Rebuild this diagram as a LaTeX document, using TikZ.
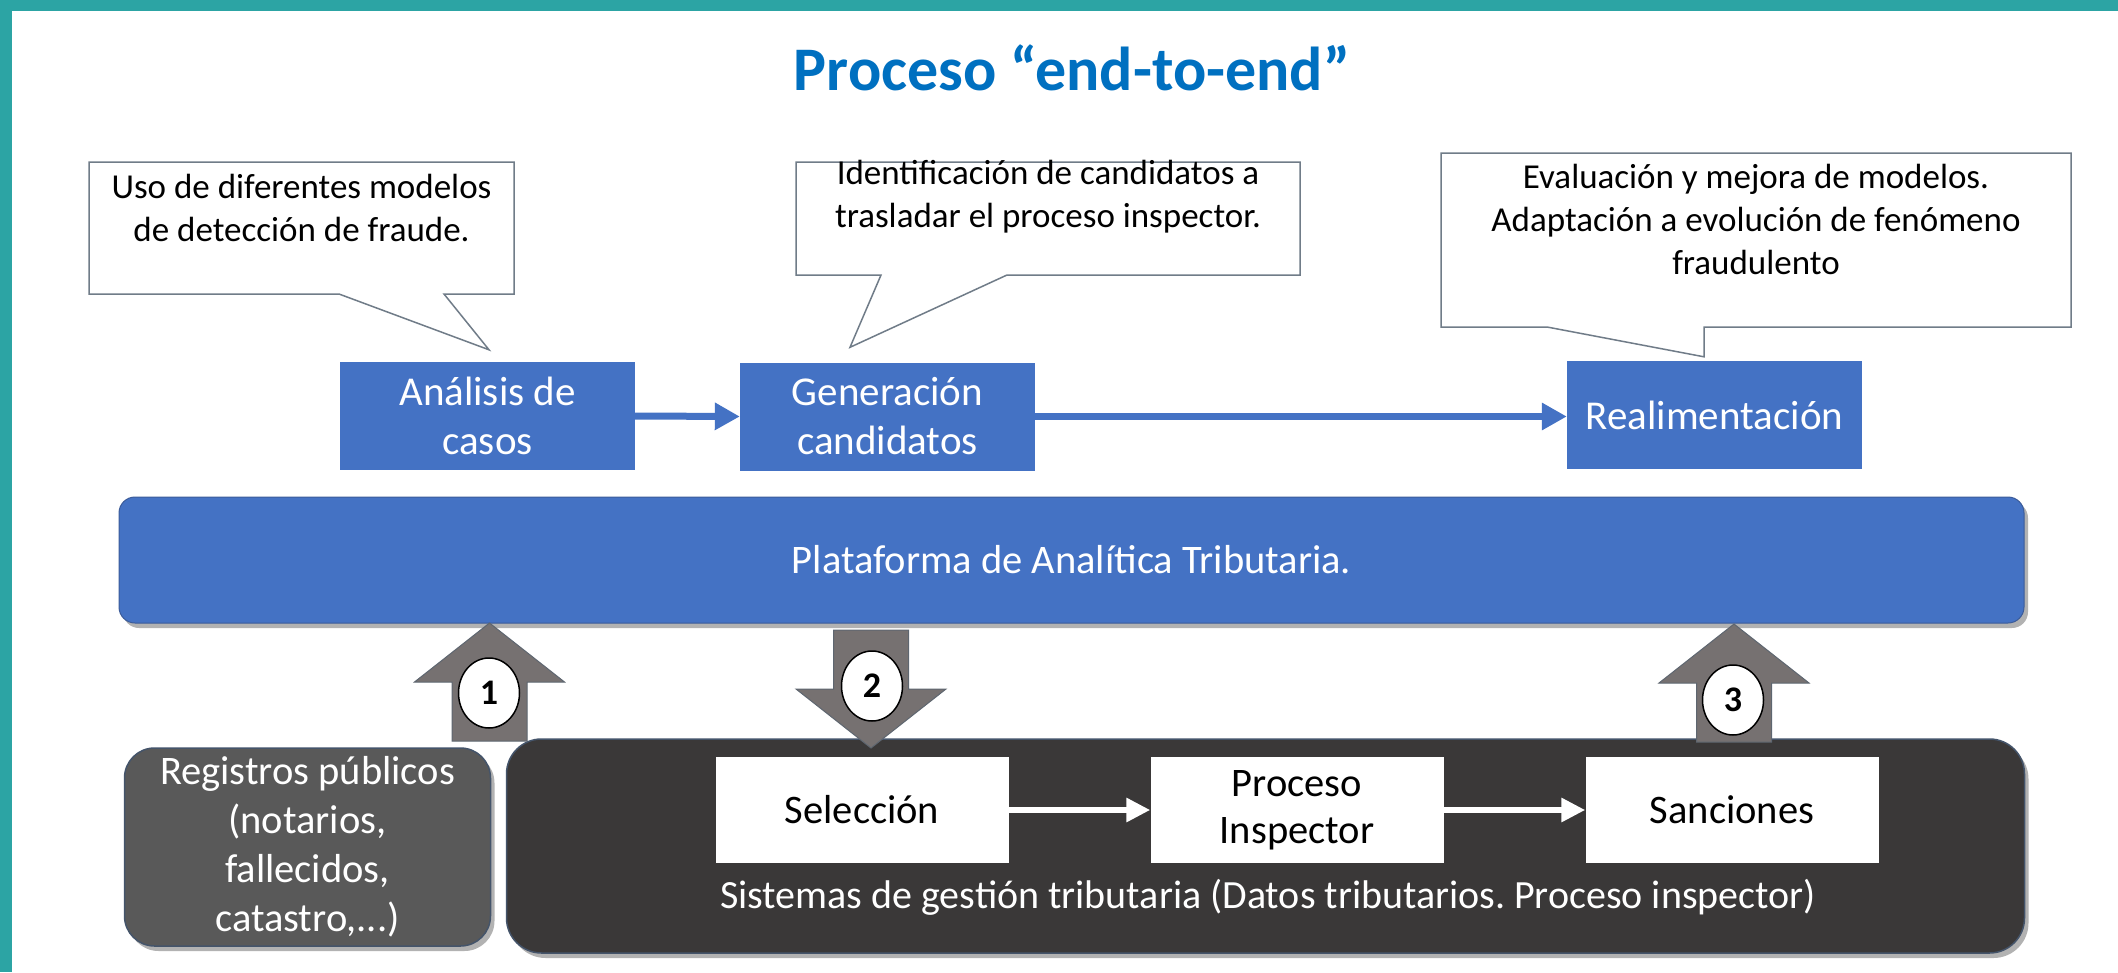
\documentclass[tikz,border=0pt]{standalone}
\usepackage{fontspec}
\setmainfont{Carlito}
\usetikzlibrary{arrows.meta, calc, positioning, shadows, shapes.geometric}
\frenchspacing

\definecolor{frameteal}{HTML}{2CA4A4}
\definecolor{titleblue}{HTML}{0070C0}
\definecolor{boxblue}{HTML}{4472C4}
\definecolor{boxedge}{HTML}{3B5B99}
\definecolor{darkbox}{HTML}{3A3838}
\definecolor{regbox}{HTML}{595959}
\definecolor{rimblue}{HTML}{44546A}
\definecolor{notegray}{HTML}{707C88}
\definecolor{arrowgray}{HTML}{767171}
\definecolor{arrowedge}{HTML}{5E6670}

\begin{document}
\begin{tikzpicture}[x=1pt, y=-1pt,
  bluebox/.style={fill=boxblue, text=white, minimum width=295pt, minimum height=108pt, align=center, inner sep=0pt, font=\fontsize{41}{49}\selectfont},
  whitebox/.style={fill=white, minimum width=293pt, minimum height=106pt, align=center, inner sep=0pt, font=\fontsize{40.5}{47}\selectfont},
  note/.style={fill=white, draw=notegray, line width=1.5pt},
  notetext/.style={align=center, inner sep=0pt, font=\fontsize{35}{43}\selectfont},
  flow/.style={draw=boxblue, line width=7pt, -{Triangle[length=25pt, width=26pt]}},
  innerflow/.style={draw=white, line width=6pt, -{Triangle[length=24pt, width=23pt]}},
  bigarrow/.style={fill=arrowgray, draw=arrowedge, line width=1pt},
  numtag/.style={ellipse, fill=white, draw=black, line width=1.5pt, minimum width=61pt, minimum height=70pt, inner sep=0pt, font=\fontsize{36}{36}\selectfont\bfseries},
  softshadow/.style={drop shadow={shadow xshift=4pt, shadow yshift=-5pt, opacity=0.3, fill=black}},
  blockarrow/.pic={
    \filldraw[bigarrow] (0,0) -- (75,59) -- (37.5,59) -- (37.5,118) -- (-37.5,118) -- (-37.5,59) -- (-75,59) -- cycle;
  }]
  \useasboundingbox (0,0) rectangle (2118,972);
  \fill[white] (0,0) rectangle (2118,972);
  \fill[frameteal] (0,0) rectangle (2118,11);
  \fill[frameteal] (0,0) rectangle (12,972);

  \node[font=\fontsize{62}{62}\selectfont\bfseries, text=titleblue] (title) at (1072,68) {Proceso “end-to-end”};

  % upper process
  \node[bluebox] (ana) at (487.5,416) {Análisis de\\casos};
  \node[bluebox] (gen) at (887.5,416.5) {Generación\\candidatos};
  \node[bluebox] (real) at (1714.5,415) {Realimentación};
  \draw[flow] (ana.east) -- (gen.west);
  \draw[flow] (gen.east) -- (gen.east -| real.west);

  % callouts
  \coordinate (tip1) at ($(ana.north)+(1.5,-12)$);
  \coordinate (tip2) at ($(gen.north)+(-37.5,-15)$);
  \coordinate (tip3) at ($(real.north)+(-10.5,-4)$);
  \draw[note] (89,162) -- (514,162) -- (514,294) -- (444,294) -- (tip1) -- (339,294) -- (89,294) -- cycle;
  \draw[note] (796,162) -- (1300,162) -- (1300,275) -- (1007,275) -- (tip2) -- (881,275) -- (796,275) -- cycle;
  \draw[note] (1441,153) -- (2071,153) -- (2071,327) -- (1704,327) -- (tip3) -- (1547,327) -- (1441,327) -- cycle;
  \node[notetext] (note1) at (301.5,208) {Uso de diferentes modelos\\de detección de fraude.};
  \node[notetext] (note2) at (1048,197) {Identificación de candidatos a\\trasladar el proceso inspector.};
  \node[notetext] (note3) at (1756,219) {Evaluación y mejora de modelos.\\Adaptación a evolución de fenómeno\\fraudulento};

  % platform
  \node[fill=boxblue, draw=boxedge, line width=1pt, rounded corners=16pt, softshadow, minimum width=1905pt, minimum height=126pt, text=white, font=\fontsize{40.5}{47}\selectfont] (plat) at (1071.5,560) {Plataforma de Analítica Tributaria.};

  % lower systems
  \node[fill=regbox, draw=rimblue, line width=1.5pt, rounded corners=30pt, softshadow, minimum width=366pt, minimum height=198pt, text=white, align=center, font=\fontsize{40.5}{49}\selectfont] (reg) at (307.5,847) {Registros públicos\\(notarios,\\fallecidos,\\catastro,...)};
  \node[fill=darkbox, draw=rimblue, line width=1.5pt, rounded corners=35pt, softshadow, minimum width=1518pt, minimum height=214pt] (sis) at (1265.5,846) {};
  \node[text=white, font=\fontsize{40}{48}\selectfont] (sislabel) at (1268,897) {Sistemas de gestión tributaria (Datos tributarios. Proceso inspector)};
  \matrix[column sep=142pt, inner sep=0pt] (steps) at (1297,810) {
    \node[whitebox] (sel) {Selección}; &
    \node[whitebox] (pro) {Proceso\\Inspector}; &
    \node[whitebox] (san) {Sanciones}; \\
  };
  \draw[innerflow] (sel) -- (pro);
  \draw[innerflow] (pro) -- (san);

  % numbered block arrows
  \pic at (489.5,623) {blockarrow};
  \pic[rotate=180] at (871,748) {blockarrow};
  \pic at (1734,624) {blockarrow};
  \node[numtag] (n1) at (489,693) {1};
  \node[numtag] (n2) at (872,686) {2};
  \node[numtag] (n3) at (1733,700) {3};
\end{tikzpicture}
\end{document}
